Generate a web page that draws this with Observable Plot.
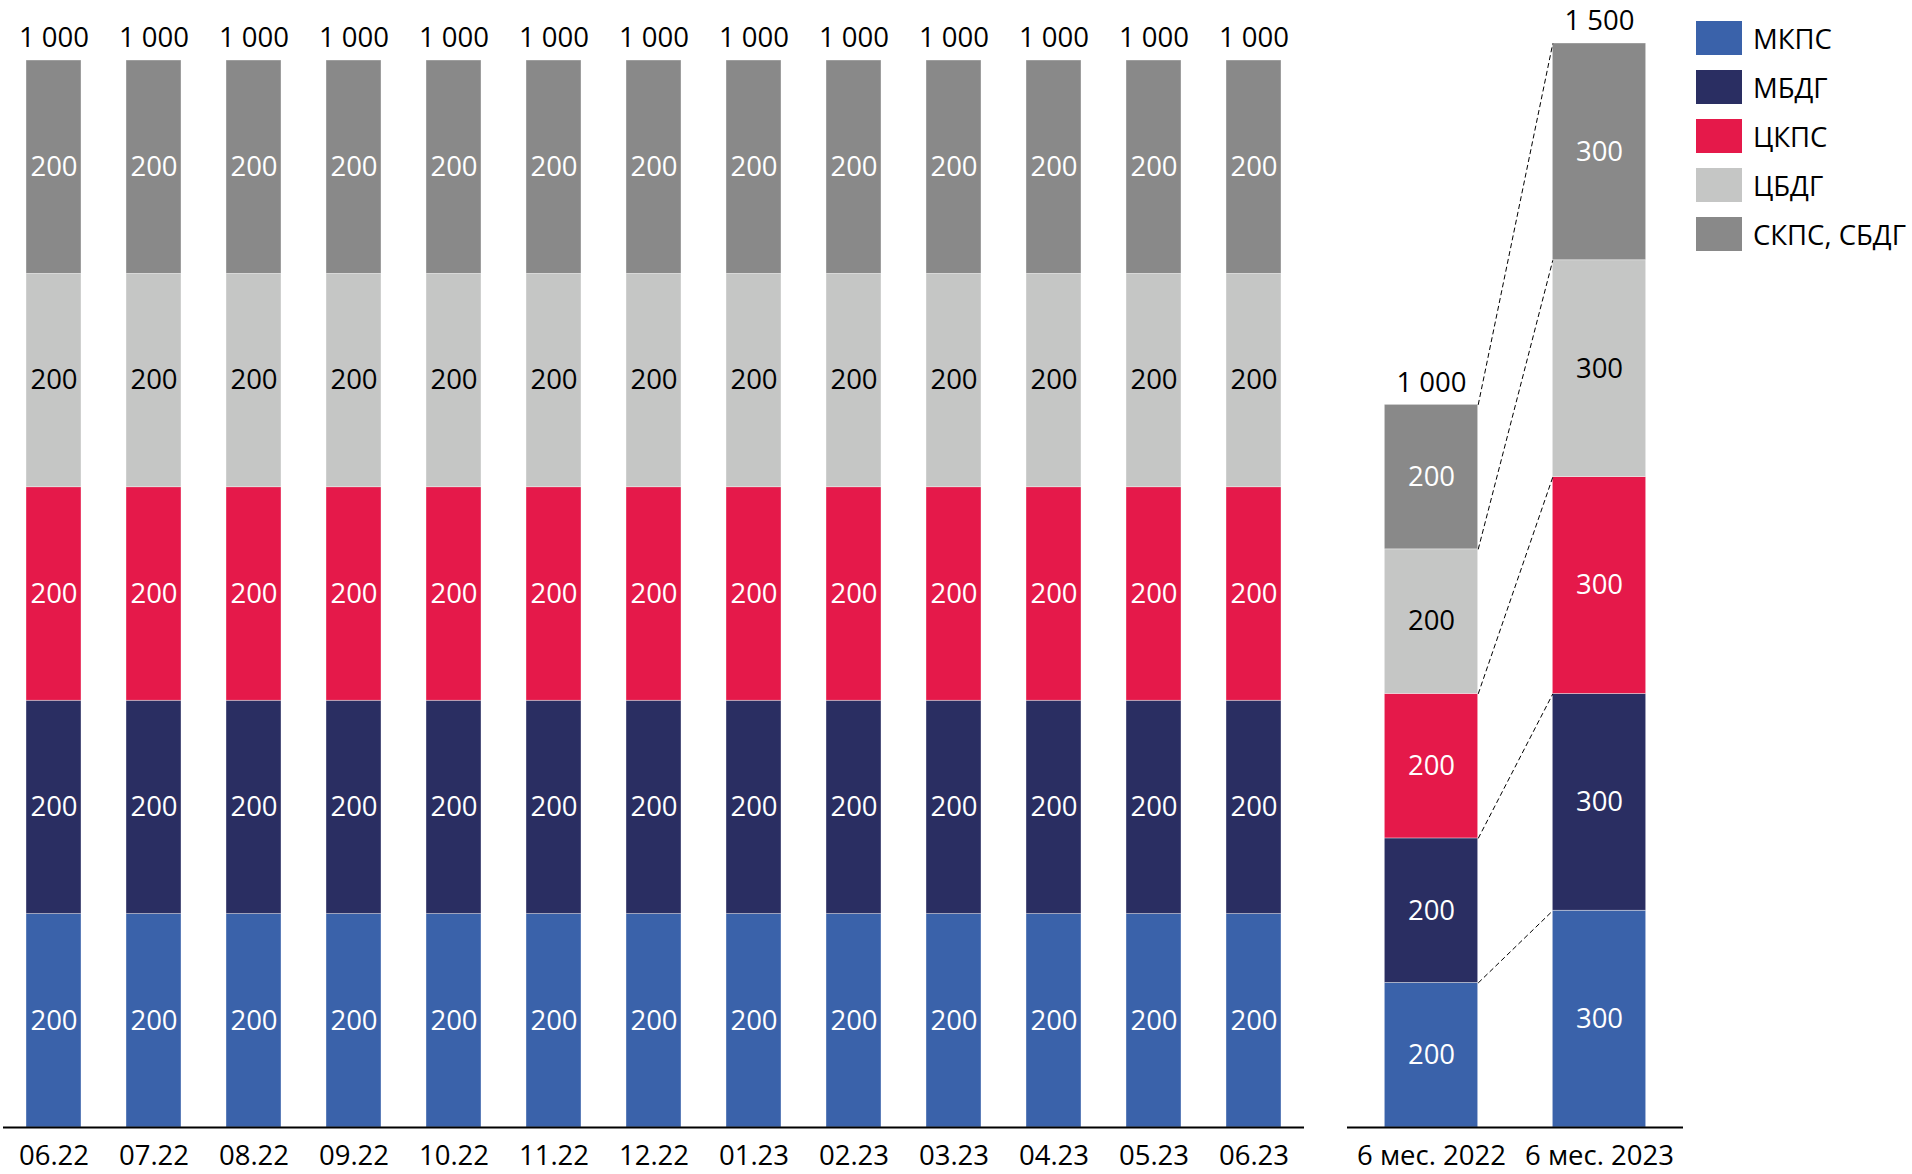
<!DOCTYPE html>
<html>
<head>
<meta charset="utf-8">
<script src="https://cdn.jsdelivr.net/npm/d3@7"></script>
<script src="https://cdn.jsdelivr.net/npm/@observablehq/plot@0.6"></script>
<style>
html, body { margin: 0; padding: 0; background: #fff; }
#chart { position: relative; width: 1912px; height: 1174px; font-family: "Open Sans", sans-serif; overflow: hidden; }
#left { position: absolute; left: 0; top: 0; }
#right { position: absolute; left: 1320px; top: 0; }
#legend { position: absolute; left: 1696px; top: 21px; }
.item { display: flex; align-items: center; height: 34px; margin-bottom: 15px; font-size: 27.5px; color: #000; white-space: nowrap; }
.sw { width: 46px; height: 34px; margin-right: 11px; flex: none; }
</style>
</head>
<body>
<div id="chart">
  <div id="left"></div>
  <div id="right"></div>
  <div id="legend"></div>
</div>
<script>
// ---- Data ----
const months = ["06.22","07.22","08.22","09.22","10.22","11.22","12.22","01.23","02.23","03.23","04.23","05.23","06.23"];
const seriesNames = ["МКПС","МБДГ","ЦКПС","ЦБДГ","СКПС, СБДГ"];
const seriesColors = ["#3A62AA","#2A2E62","#E5194A","#C5C6C5","#898989"];

const mkpsMonthly  = [200,200,200,200,200,200,200,200,200,200,200,200,200];
const mbdgMonthly  = [200,200,200,200,200,200,200,200,200,200,200,200,200];
const ckpsMonthly  = [200,200,200,200,200,200,200,200,200,200,200,200,200];
const cbdgMonthly  = [200,200,200,200,200,200,200,200,200,200,200,200,200];
const skpsMonthly  = [200,200,200,200,200,200,200,200,200,200,200,200,200];

const periods = ["6 мес. 2022","6 мес. 2023"];
const halfYear2022 = [200,200,200,200,200]; // МКПС, МБДГ, ЦКПС, ЦБДГ, СКПС+СБДГ
const halfYear2023 = [300,300,300,300,300];

// ---- Build tables ----
const monthlySeries = [mkpsMonthly, mbdgMonthly, ckpsMonthly, cbdgMonthly, skpsMonthly];
const monthly = months.flatMap((m, i) =>
  seriesNames.map((s, j) => ({month: m, series: s, value: monthlySeries[j][i]})));
const halfValues = [halfYear2022, halfYear2023];
const halfTable = periods.flatMap((p, i) =>
  seriesNames.map((s, j) => ({period: p, idx: i, series: s, value: halfValues[i][j]})));
const cum2022 = Array.from(d3.cumsum(halfYear2022));
const cum2023 = Array.from(d3.cumsum(halfYear2023));
const links = seriesNames.map((s, j) => ({series: s, from: cum2022[j], to: cum2023[j]}));

const fmt = d3.formatLocale({decimal: ",", thousands: "\u00a0", grouping: [3], currency: ["", ""]}).format(",d");
const labelFill = d => d.series === "ЦБДГ" ? "black" : "white";
const style = {fontFamily: "'Open Sans', sans-serif", fontSize: "27.5px", background: "transparent", color: "black", overflow: "visible"};
const color = {domain: seriesNames, range: seriesColors};

// ---- Left chart: monthly ----
const left = Plot.plot({
  width: 1320, height: 1174,
  marginTop: 60, marginBottom: 47, marginLeft: 3, marginRight: 16,
  style,
  x: {domain: months, paddingInner: 0.445, paddingOuter: 0.2225, tickSize: 0, tickPadding: 18, label: null},
  y: {domain: [0, 1000], axis: null},
  color,
  marks: [
    Plot.barY(monthly, {x: "month", y: "value", fill: "series", stroke: "white", strokeWidth: 0.6, strokeOpacity: 0.6}),
    Plot.text(monthly, Plot.stackY({x: "month", y: "value", text: d => fmt(d.value), fill: labelFill})),
    Plot.text(monthly, Plot.groupX({y: "sum", text: vs => fmt(d3.sum(vs))}, {x: "month", y: "value", text: "value", dy: -22, fill: "black"})),
    Plot.ruleY([0], {stroke: "black", strokeWidth: 2})
  ]
});
document.getElementById("left").appendChild(left);

// ---- Right chart: half-year totals ----
const hw = 0.278;
const right = Plot.plot({
  width: 380, height: 1174,
  marginTop: 43, marginBottom: 47, marginLeft: 27, marginRight: 17,
  style,
  x: {domain: [-0.5, 1.5], ticks: [0, 1], tickFormat: i => periods[i], tickSize: 0, tickPadding: 18, label: null},
  y: {domain: [0, 1500], axis: null},
  color,
  marks: [
    Plot.rectY(halfTable, {x1: d => d.idx - hw, x2: d => d.idx + hw, y: "value", fill: "series", stroke: "white", strokeWidth: 0.6, strokeOpacity: 0.6}),
    Plot.link(links, {x1: d => 0 + hw, y1: "from", x2: d => 1 - hw, y2: "to", stroke: "black", strokeWidth: 1, strokeDasharray: "5,3"}),
    Plot.text(halfTable, Plot.stackY({x: "idx", y: "value", text: d => fmt(d.value), fill: labelFill})),
    Plot.text(halfTable, Plot.groupX({y: "sum", text: vs => fmt(d3.sum(vs))}, {x: "idx", y: "value", text: "value", dy: -22, fill: "black"})),
    Plot.ruleY([0], {stroke: "black", strokeWidth: 2})
  ]
});
document.getElementById("right").appendChild(right);

// ---- Legend ----
const legend = document.getElementById("legend");
seriesNames.forEach((s, j) => {
  const item = document.createElement("div");
  item.className = "item";
  const sw = document.createElement("div");
  sw.className = "sw";
  sw.style.background = seriesColors[j];
  const label = document.createElement("span");
  label.textContent = s;
  item.appendChild(sw);
  item.appendChild(label);
  legend.appendChild(item);
});
</script>
</body>
</html>
